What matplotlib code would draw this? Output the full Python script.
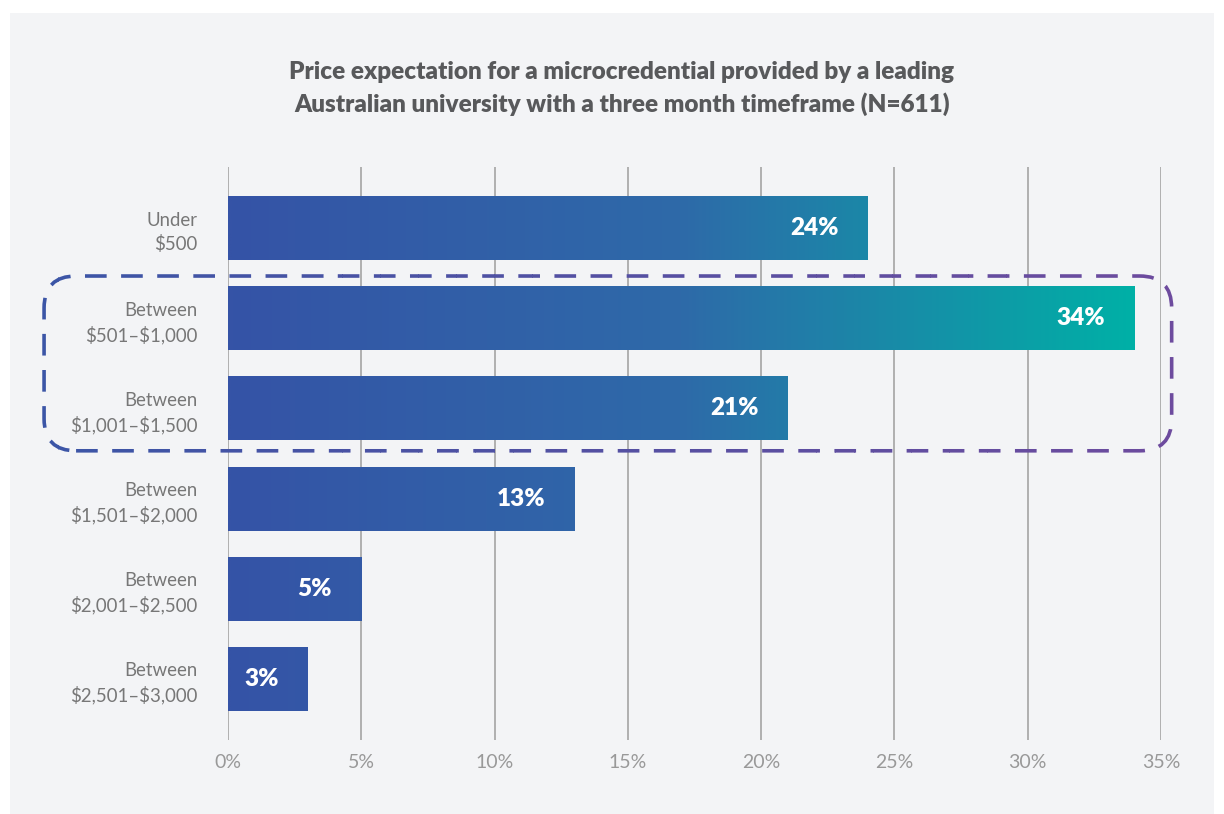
import numpy as np
import matplotlib.pyplot as plt
from matplotlib.colors import LinearSegmentedColormap
from matplotlib.patches import FancyBboxPatch, Rectangle

plt.rcParams['font.family'] = ['Lato', 'DejaVu Sans']

# data
categories = ['Under\n$500', 'Between\n$501–$1,000', 'Between\n$1,001–$1,500',
              'Between\n$1,501–$2,000', 'Between\n$2,001–$2,500', 'Between\n$2,501–$3,000']
values = [24, 34, 21, 13, 5, 3]
ticks = [0, 5, 10, 15, 20, 25, 30, 35]
tick_labels = ['0%', '5%', '10%', '15%', '20%', '25%', '30%', '35%']
highlight = [1, 2]
title = ('Price expectation for a microcredential provided by a leading\n'
         'Australian university with a three month timeframe (N=611)')

bar_cmap = LinearSegmentedColormap.from_list('bars', ['#3553a6', '#2e6aa9', '#00b0a6'])
box_cmap = LinearSegmentedColormap.from_list('box', ['#3b55a6', '#6d4b9e'])

fig = plt.figure(figsize=(12.24, 8.14), dpi=100)
fig.patch.set_facecolor('white')
fig.add_artist(Rectangle((10 / 1224, 0.0), 1204 / 1224, 801 / 814,
                         transform=fig.transFigure, facecolor='#f3f4f6',
                         edgecolor='none', zorder=-10))

ax = fig.add_axes([228 / 1224, 74 / 814, 933 / 1224, 573 / 814])
ax.set_facecolor('none')

vmax = max(values)
h = 0.71
for i, v in enumerate(values):
    grad = np.linspace(0, v / vmax, 256).reshape(1, -1)
    ax.imshow(grad, extent=[0, v, i + h / 2, i - h / 2], cmap=bar_cmap,
              vmin=0, vmax=1, aspect='auto', zorder=3, interpolation='bilinear')
    ax.text(v - 1.1, i, f'{v}%', ha='right', va='center', color='white',
            fontsize=17.5, fontweight='heavy', zorder=5)

ax.set_xlim(0, 35)
ax.set_ylim(len(values) - 1 + 0.68, -0.68)
ax.set_xticks(ticks)
ax.set_xticklabels(tick_labels, color='#999999', fontsize=14)
ax.set_yticks(range(len(categories)))
ax.set_yticklabels(categories, color='#777777', fontsize=13.4, linespacing=1.4)
ax.tick_params(axis='x', length=0, pad=10)
ax.tick_params(axis='y', length=0, pad=22)
for lab in ax.get_yticklabels():
    lab.set_parse_math(False)
    lab.set_horizontalalignment('right')
ax.grid(axis='x', color='#b0b0b0', linewidth=1.4, zorder=0)
ax.set_axisbelow(True)
for s in ax.spines.values():
    s.set_visible(False)

fig.text(0.508, 0.891, title, ha='center', va='center', fontsize=17.5,
         fontweight='heavy', color='#58595b', linespacing=1.45)

# dashed rounded highlight box, drawn in pixel space
fig.canvas.draw()
x0, y0 = ax.transData.transform((-6.9, highlight[-1] + 0.5 - 0.03))
x1, y1 = ax.transData.transform((35.4, highlight[0] - 0.5 + 0.03))
nstrips = 60
edges = np.linspace(x0 - 5, x1 + 5, nstrips + 1)
for k in range(nstrips):
    c = box_cmap(k / (nstrips - 1))
    box = FancyBboxPatch((x0, y0), x1 - x0, y1 - y0,
                         boxstyle='round,pad=0,rounding_size=32',
                         transform=None, fill=False, edgecolor=c,
                         linewidth=2.6, linestyle=(0, (6, 4)), zorder=10)
    fig.add_artist(box)
    clip = Rectangle((edges[k], y0 - 10), edges[k + 1] - edges[k] + 0.5, y1 - y0 + 20,
                     transform=None)
    box.set_clip_path(clip)

fig.savefig('out.png', dpi=100, facecolor='white')
